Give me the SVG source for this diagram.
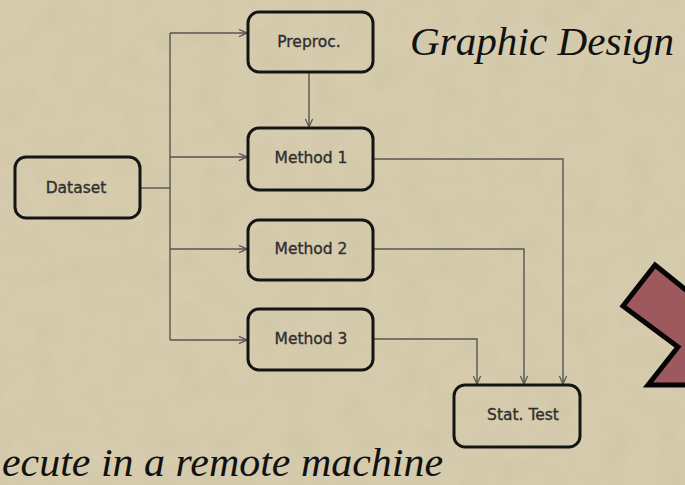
<svg xmlns="http://www.w3.org/2000/svg" width="685" height="485" viewBox="0 0 685 485">
  <defs>
    <style>
      .box { fill: none; stroke: #151515; stroke-width: 3; }
      .lbl { font-family: "DejaVu Sans", "Verdana", sans-serif; font-size: 15.5px; fill: #2f2f2f; stroke: #2f2f2f; stroke-width: 0.35; text-anchor: middle; dominant-baseline: central; }
      .wire { fill: none; stroke: #575550; stroke-width: 1.4; }
      .title { font-family: "Liberation Serif", "Times New Roman", serif; font-style: italic; fill: #111; }
    </style>
    <marker id="arrow" viewBox="0 0 10 10" refX="10" refY="5" markerWidth="9" markerHeight="9" markerUnits="userSpaceOnUse" orient="auto">
      <path d="M1,1 L10,5 L1,9" fill="none" stroke="#575550" stroke-width="1.4"/>
    </marker>
    <filter id="paper" x="0" y="0" width="100%" height="100%">
      <feTurbulence type="fractalNoise" baseFrequency="0.035" numOctaves="3" seed="4"/>
      <feColorMatrix type="matrix" values="0 0 0 0 0.45  0 0 0 0 0.40  0 0 0 0 0.28  0 0 0 0.9 -0.35"/>
    </filter>
  </defs>

  <!-- parchment background -->
  <rect width="685" height="485" fill="#d6ccad"/>
  <rect width="685" height="485" filter="url(#paper)" opacity="0.3"/>

  <!-- connectors -->
  <g id="connectors">
    <path class="wire" d="M140,188 H170"/>
    <path class="wire" d="M170,33 V340"/>
    <path class="wire" d="M170,33 H247" marker-end="url(#arrow)"/>
    <path class="wire" d="M170,157 H247" marker-end="url(#arrow)"/>
    <path class="wire" d="M170,249 H247" marker-end="url(#arrow)"/>
    <path class="wire" d="M170,340 H247" marker-end="url(#arrow)"/>
    <path class="wire" d="M309,72 V127" marker-end="url(#arrow)"/>
    <path class="wire" d="M373,159 H563 V384" marker-end="url(#arrow)"/>
    <path class="wire" d="M373,249 H524 V384" marker-end="url(#arrow)"/>
    <path class="wire" d="M373,339 H477 V384" marker-end="url(#arrow)"/>
  </g>

  <!-- nodes -->
  <g id="dataset">
    <rect class="box" x="15" y="157" width="125" height="61" rx="11"/>
    <text class="lbl" x="76" y="188">Dataset</text>
  </g>
  <g id="preproc">
    <rect class="box" x="248" y="12" width="125" height="60" rx="11"/>
    <text class="lbl" x="309" y="42">Preproc.</text>
  </g>
  <g id="method1">
    <rect class="box" x="248" y="128" width="125" height="62" rx="11"/>
    <text class="lbl" x="311" y="158">Method 1</text>
  </g>
  <g id="method2">
    <rect class="box" x="248" y="220" width="125" height="60" rx="11"/>
    <text class="lbl" x="311" y="249">Method 2</text>
  </g>
  <g id="method3">
    <rect class="box" x="248" y="309" width="125" height="61" rx="11"/>
    <text class="lbl" x="311" y="339">Method 3</text>
  </g>
  <g id="stattest">
    <rect class="box" x="454" y="385" width="126" height="62" rx="11"/>
    <text class="lbl" x="523" y="415">Stat. Test</text>
  </g>

  <!-- headings -->
  <text class="title" x="410" y="55" font-size="40" textLength="264" lengthAdjust="spacingAndGlyphs">Graphic Design</text>
  <text class="title" x="2" y="476" font-size="39" textLength="441" lengthAdjust="spacingAndGlyphs">ecute in a remote machine</text>

  <!-- big chevron arrow at the right edge -->
  <polygon points="655,265 745,338 745,385 648,385 678,347 623,306" fill="#9d595d" stroke="#050505" stroke-width="5" stroke-linejoin="miter"/>
</svg>
